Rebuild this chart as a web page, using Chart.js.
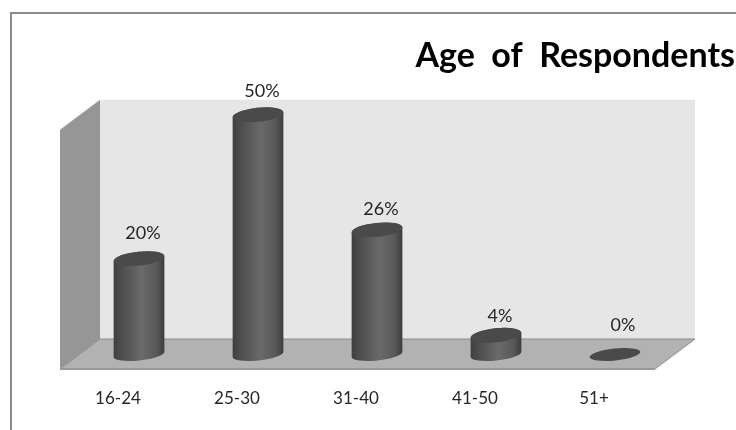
<!DOCTYPE html>
<html>
<head>
<meta charset="utf-8">
<title>Age of Respondents</title>
<script src="https://cdn.jsdelivr.net/npm/chart.js@4/dist/chart.umd.min.js"></script>
<style>
  html, body { margin: 0; padding: 0; background: #fff; }
  #chart { display: block; }
</style>
</head>
<body>
<canvas id="chart" width="736" height="430"></canvas>
<script>
  // ── Data ──
  const categories = ["16-24", "25-30", "31-40", "41-50", "51+"];
  const values     = [20, 50, 26, 4, 0];

  // small per-label nudges, the labels don't sit evenly over the bars
  const labelShiftX = [4, 4, 4, 4, 8];
  const labelShiftY = [25, 24, 21, 19, 29];

  const FONT = "Lato, 'Liberation Sans', sans-serif";

  // ── Frame and 3D walls ──
  const wallsPlugin = {
    id: "walls",
    beforeDraw(chart) {
      const { ctx, width, height, scales: { x, y } } = chart;
      const left  = x.left - 19.5;      // front left corner
      const right = x.right - 19.5;     // front right corner
      const zero  = y.getPixelForValue(0);
      const front = zero + 14.5;
      const back  = zero - 15.5;
      const top   = y.getPixelForValue(50) - 15;
      const dx = 40, dy = 30;

      const poly = (pts, fill, stroke) => {
        ctx.beginPath();
        pts.forEach((p, i) => i ? ctx.lineTo(p[0], p[1]) : ctx.moveTo(p[0], p[1]));
        ctx.closePath();
        ctx.fillStyle = fill;
        ctx.fill();
        if (stroke) { ctx.strokeStyle = stroke; ctx.lineWidth = 1; ctx.stroke(); }
      };

      ctx.save();
      // outer frame, only top and left show
      ctx.strokeStyle = "#8a8a8a";
      ctx.lineWidth = 2;
      ctx.beginPath();
      ctx.moveTo(11, height);
      ctx.lineTo(11, 13);
      ctx.lineTo(width, 13);
      ctx.stroke();

      poly([[left + dx, top], [right + dx, top], [right + dx, back], [left + dx, back]], "#e6e6e6");
      poly([[left, top + dy], [left + dx, top], [left + dx, back], [left, front]], "#969696");
      poly([[left, front], [left + dx, back], [right + dx, back], [right, front]], "#b2b2b2", "#8c8c8c");

      // front edge of the floor is a bit heavier
      ctx.strokeStyle = "#999999";
      ctx.lineWidth = 2;
      ctx.beginPath();
      ctx.moveTo(left, front);
      ctx.lineTo(right, front);
      ctx.stroke();
      ctx.restore();
    },
  };

  // ── Cylinders, drawn from the bar elements ──
  const cylinderPlugin = {
    id: "cylinder",
    beforeDatasetsDraw(chart) {
      const { ctx } = chart;
      const TILT = -6 * Math.PI / 180;
      const meta = chart.getDatasetMeta(0);

      ctx.save();
      meta.data.forEach((bar, i) => {
        const rx = bar.width / 2, ry = 7;
        const grad = ctx.createLinearGradient(bar.x - rx, 0, bar.x + rx, 0);
        grad.addColorStop(0, "#3e3e3e");
        grad.addColorStop(0.12, "#4a4a4a");
        grad.addColorStop(0.55, "#6a6a6a");
        grad.addColorStop(0.85, "#585858");
        grad.addColorStop(1, "#3c3c3c");

        if (values[i] > 0) {
          ctx.beginPath();
          ctx.ellipse(bar.x, bar.base, rx, 6, TILT, 0, Math.PI);
          ctx.ellipse(bar.x, bar.y, rx, ry, TILT, Math.PI, 2 * Math.PI);
          ctx.closePath();
          ctx.fillStyle = grad;
          ctx.fill();
        }

        ctx.beginPath();
        ctx.ellipse(bar.x, bar.y, rx, values[i] > 0 ? ry : 6, TILT, 0, 2 * Math.PI);
        ctx.fillStyle = "#4a4a4a";
        ctx.fill();

        // value label
        ctx.fillStyle = "#262626";
        ctx.font = "18px " + FONT;
        ctx.textAlign = "center";
        ctx.textBaseline = "middle";
        ctx.fillText(values[i] + "%", bar.x + labelShiftX[i], bar.y - labelShiftY[i]);
      });
      ctx.restore();
      return false;   // skip the flat rectangles
    },
  };

  // the title hangs out past the plot area on the right
  const titlePlugin = {
    id: "titleRight",
    afterLayout(chart) {
      chart.titleBlock.right = 735;
    },
  };

  new Chart(document.getElementById("chart"), {
    type: "bar",
    data: {
      labels: categories,
      datasets: [{
        label: "Age of Respondents",
        data: values,
        backgroundColor: "#555555",
        barThickness: 51,
      }],
    },
    options: {
      responsive: false,
      animation: false,
      layout: { padding: { left: 79.5, right: 61.5, top: 36, bottom: 0 } },
      plugins: {
        legend: { display: false },
        tooltip: { enabled: false },
        title: {
          display: true,
          text: "Age  of  Respondents",
          align: "end",
          color: "#000",
          font: { family: FONT, size: 34, weight: "bold" },
          padding: { top: 0, bottom: 38 },
        },
      },
      scales: {
        x: {
          grid: { display: false },
          border: { display: false },
          ticks: {
            color: "#262626",
            font: { family: FONT, size: 17 },
            labelOffset: -21,
            padding: 25.5,
            maxRotation: 0,
          },
          afterFit(scale) { scale.height = 75.5; },
        },
        y: { display: false, min: 0, max: 50 },
      },
    },
    plugins: [wallsPlugin, cylinderPlugin, titlePlugin],
  });
</script>
</body>
</html>
